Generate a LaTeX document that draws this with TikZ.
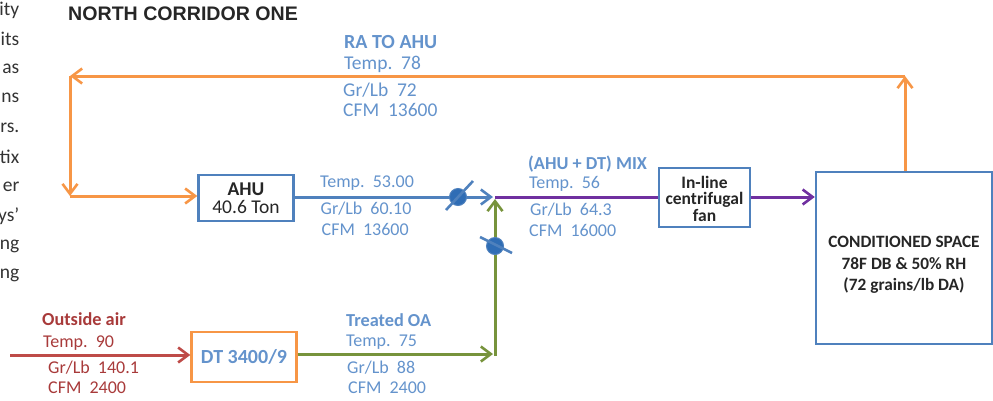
\documentclass[tikz,border=0pt]{standalone}
\usepackage{fontspec}
\setmainfont{Carlito}
\newfontfamily\headfont{Liberation Sans}
\usetikzlibrary{arrows.meta}
\definecolor{lineblue}{HTML}{4F81BD}
\definecolor{textblue}{HTML}{6493CC}
\definecolor{lineorange}{HTML}{F79646}
\definecolor{linegreen}{HTML}{77933C}
\definecolor{linered}{HTML}{BE4B48}
\definecolor{textred}{HTML}{A83A3A}
\definecolor{linepurple}{HTML}{7030A0}
\definecolor{damperblue}{HTML}{2F6DB5}
\tikzset{
    flowbox/.style={draw=lineblue, line width=2.4pt, inner sep=0pt, align=center, text=black!85},
    flowtext/.style={anchor=west, inner sep=0pt, font=\fontsize{18}{18}\selectfont},
    flowhead/.style={flowtext, font=\fontsize{18.3}{18.3}\selectfont\bfseries},
    flowline/.style={line width=3pt, -{Straight Barb[length=10pt, width=15pt, line width=2.6pt]}},
    damperdisc/.style={circle, minimum size=17pt, inner sep=0pt, fill=damperblue, draw=lineblue, line width=1pt},
    damperblade/.style={lineblue, line width=2.6pt},
}
\begin{document}
\begin{tikzpicture}[x=1pt, y=-1pt]
    \useasboundingbox (0,0) rectangle (993,400);
    % the cut-off page text on the left
    \foreach \ypos/\lab [count=\n] in {10/ity, 39/its, 69/as, 98/ns, 128/rs., 157/tix, 187/er, 216/ys’, 246/ng, 275/ng}
        \node[anchor=east, inner sep=0pt, text=black!80, font=\fontsize{19.5}{19.5}\selectfont] (cut\n) at (19.5,\ypos) {\lab};
    \node[anchor=west, inner sep=0pt, text=black!85, font=\headfont\fontsize{19.6}{19.6}\selectfont\bfseries] (title) at (68,14) {NORTH CORRIDOR ONE};
    % the boxes
    \node[flowbox, minimum width=95pt, minimum height=46pt, font=\fontsize{19.5}{18}\selectfont] (ahu) at (246,198) {\textbf{AHU}\\40.6 Ton};
    \node[flowbox, draw=lineorange, minimum width=105pt, minimum height=50pt, text=textblue, font=\fontsize{20}{20}\selectfont\bfseries] (dt) at (244,357) {DT 3400/9};
    \node[flowbox, minimum width=91pt, minimum height=59pt] (fan) at (704.5,197.5) {};
    \node[inner sep=0pt, align=center, text=black!85, font=\fontsize{17.5}{16.5}\selectfont\bfseries] (fantext) at (704.5,198.5) {In-line\\centrifugal\\fan};
    \node[flowbox, minimum width=176pt, minimum height=172pt] (space) at (904,258) {};
    \node[inner sep=0pt, align=center, text=black!85, font=\fontsize{17.3}{21.5}\selectfont\bfseries] (spacetext) at (904,265) {CONDITIONED SPACE\\78F DB \& 50\% RH\\(72 grains/lb DA)};
    % corners and free ends
    \coordinate (topright) at (905,76);
    \coordinate (topleft) at (70,76);
    \coordinate (botleft) at (70,196);
    \coordinate (mix) at (495,197);
    \coordinate (greencorner) at (495,354);
    \coordinate (oain) at (10,355);
    % return air
    \draw[flowline, lineorange] (space.north -| topright) -- (topright);
    \draw[flowline, lineorange] (topright) -- (topleft);
    \draw[flowline, lineorange] (topleft) -- (botleft);
    \draw[flowline, lineorange] (botleft) -- (ahu.west |- botleft);
    % supply, treated air and mix
    \draw[flowline, lineblue, shorten >=2pt] (ahu.east |- mix) -- (mix);
    \draw[flowline, linered] (oain) -- (dt.west |- oain);
    \draw[flowline, linegreen, shorten >=2pt] (dt.east |- greencorner) -- (greencorner);
    \draw[flowline, linegreen] ([yshift=-2pt]greencorner) -- ([yshift=-2pt]mix);
    \draw[linepurple, line width=3pt] (mix) -- (fan.west |- mix);
    \draw[flowline, linepurple] (fan.east |- mix) -- (space.west |- mix);
    % the two dampers
    \node[damperdisc] (damper1) at (458,197) {};
    \node[damperdisc] (damper2) at (495,246) {};
    \draw[damperblade] (446,210) -- (473,181);
    \draw[damperblade] (480,237) -- (512,253);
    % the labels on the lines
    \foreach \xpos/\ypos/\lab [count=\n] in {344/64/{Temp.~~78}, 343/90/{Gr/Lb~~72}, 343/110/{CFM~~13600}}
        \node[flowtext, text=textblue, font=\fontsize{19.5}{19.5}\selectfont] (raval\n) at (\xpos,\ypos) {\lab};
    \foreach \xpos/\ypos/\lab [count=\n] in {320/183/{Temp.~~53.00}, 320.5/209/{Gr/Lb~~60.10}, 321.5/229/{CFM~~13600}, 529/184/{Temp.~~56}, 530/210/{Gr/Lb~~64.3}, 529/230/{CFM~~16000}, 346/342/{Temp.~~75}, 347/368/{Gr/Lb~~88}, 348/388/{CFM~~2400}}
        \node[flowtext, text=textblue] (val\n) at (\xpos,\ypos) {\lab};
    \foreach \xpos/\ypos/\lab [count=\n] in {43/343/{Temp.~~90}, 48/368/{Gr/Lb~~140.1}, 48/388/{CFM~~2400}}
        \node[flowtext, text=textred] (oaval\n) at (\xpos,\ypos) {\lab};
    \node[flowhead, text=textblue, font=\fontsize{20}{20}\selectfont\bfseries] (ratoahu) at (344,42) {RA TO AHU};
    \node[flowhead, text=textblue] (mixhead) at (528,164) {(AHU + DT) MIX};
    \node[flowhead, text=textblue] (treated) at (346,320) {Treated OA};
    \node[flowhead, text=textred] (outside) at (42,319) {Outside air};
\end{tikzpicture}
\end{document}
